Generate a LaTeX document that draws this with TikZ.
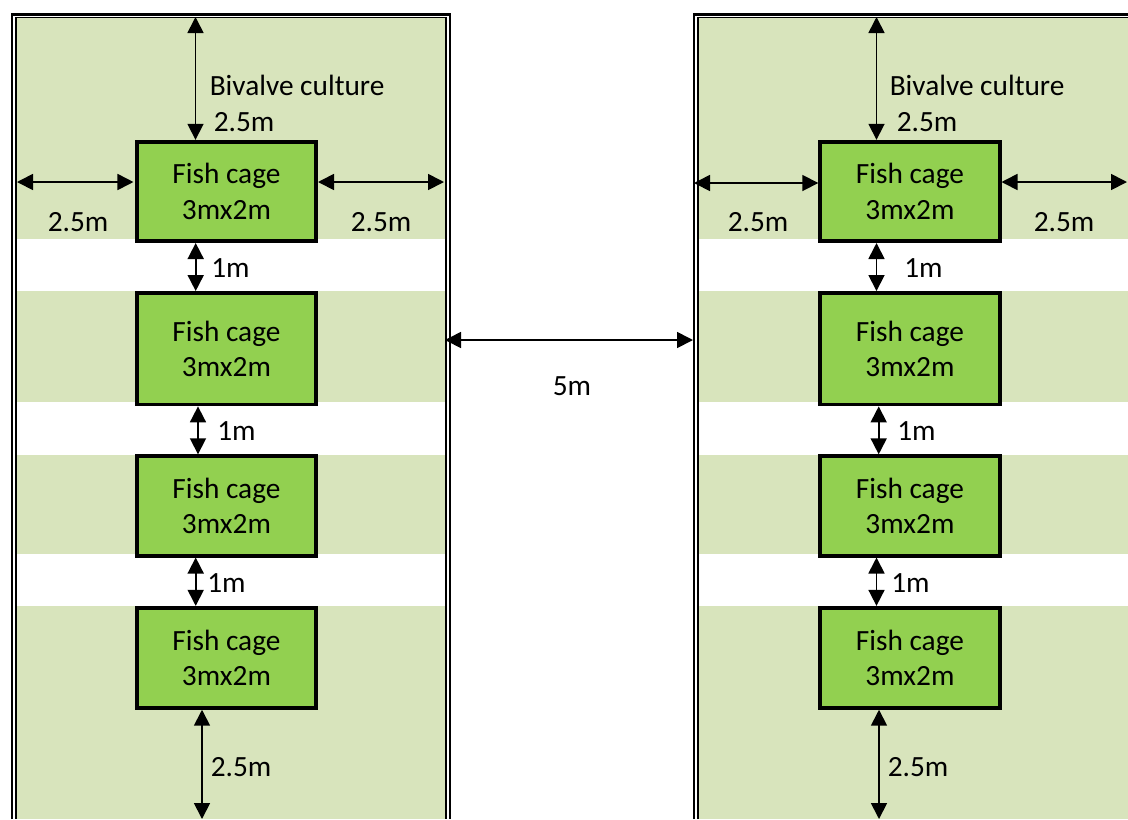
\documentclass[tikz,border=0pt]{standalone}
\usepackage{fontspec}
\setmainfont{Carlito}
\usetikzlibrary{arrows.meta}
\definecolor{bandgreen}{HTML}{D8E4BC}
\definecolor{cagegreen}{HTML}{92D050}
\tikzset{
  cage/.style={draw=black,fill=cagegreen,line width=2.9pt,minimum width=134.5pt,align=center,inner sep=0pt,
    font=\fontsize{22}{26.6}\selectfont},
  lbl/.style={anchor=base west,inner sep=0pt,font=\fontsize{22}{26.6}\selectfont},
  dimline/.style={{Triangle[length=12pt,width=12pt]}-{Triangle[length=12pt,width=12pt]},line width=1.3pt,black},
  frameout/.style={draw=black,line width=1.9pt},
  framein/.style={draw=black,line width=1.1pt},
  band/.style={fill=bandgreen,draw=none}
}
\begin{document}
\begin{tikzpicture}[x=0.75pt,y=-0.75pt]
\useasboundingbox (0,0) rectangle (1128,819);
% bands
\foreach \xa/\xb in {16.5/445,698.5/1128}{
  \fill[band] (\xa,18) rectangle (\xb,238.7);
  \fill[band] (\xa,291) rectangle (\xb,402);
  \fill[band] (\xa,454.5) rectangle (\xb,554);
  \fill[band] (\xa,606) rectangle (\xb,819);
}
% double frames
\draw[frameout] (12.2,819) -- (12.2,14.3) -- (450,14.3) -- (450,819);
\draw[framein] (15.8,819) -- (15.8,17.5) -- (446,17.5) -- (446,819);
\draw[frameout] (694.2,819) -- (694.2,14.3) -- (1128,14.3);
\draw[framein] (697.8,819) -- (697.8,17.5) -- (1128,17.5);
% cages
\node[cage,minimum height=74.5pt] (L1) at (226.4,191.4) {Fish cage\\3mx2m};
\node[cage,minimum height=83.6pt] (L2) at (226.4,348.7) {Fish cage\\3mx2m};
\node[cage,minimum height=74.5pt] (L3) at (226.4,505.9) {Fish cage\\3mx2m};
\node[cage,minimum height=75pt]   (L4) at (226.4,657.8) {Fish cage\\3mx2m};
\node[cage,minimum height=74.5pt] (R1) at (909.9,191.4) {Fish cage\\3mx2m};
\node[cage,minimum height=83.6pt] (R2) at (909.9,348.7) {Fish cage\\3mx2m};
\node[cage,minimum height=74.5pt] (R3) at (909.9,505.9) {Fish cage\\3mx2m};
\node[cage,minimum height=75pt]   (R4) at (909.9,657.8) {Fish cage\\3mx2m};
% free ends of connectors
\coordinate (Ltop) at (195.5,17);
\coordinate (Lleft) at (17,182);
\coordinate (Lright) at (444,182);
\coordinate (Lg1) at (195.7,0);
\coordinate (Lg2) at (198,0);
\coordinate (Lg3) at (195.7,0);
\coordinate (Lbot) at (202,819);
\coordinate (Rtop) at (876.5,17);
\coordinate (Rleft) at (694,183);
\coordinate (Rright) at (1127,182);
\coordinate (Rg1) at (876.5,0);
\coordinate (Rg2) at (878.7,0);
\coordinate (Rg3) at (876.5,0);
\coordinate (Rbot) at (879,819);
\coordinate (Mleft) at (445,340);
\coordinate (Mright) at (693,340);
% connectors
\draw[dimline] (Ltop) -- (Ltop |- L1.north);
\draw[dimline,shorten >=1pt] (Lleft) -- (L1.west |- Lleft);
\draw[dimline] (L1.east |- Lright) -- (Lright);
\draw[dimline] (Lg1 |- L1.south) -- (Lg1 |- L2.north);
\draw[dimline] (Lg2 |- L2.south) -- (Lg2 |- L3.north);
\draw[dimline] (Lg3 |- L3.south) -- (Lg3 |- L4.north);
\draw[dimline] (Lbot |- L4.south) -- (Lbot);
\draw[dimline] (Rtop) -- (Rtop |- R1.north);
\draw[dimline] (Rleft) -- (R1.west |- Rleft);
\draw[dimline] (R1.east |- Rright) -- (Rright);
\draw[dimline] (Rg1 |- R1.south) -- (Rg1 |- R2.north);
\draw[dimline] (Rg2 |- R2.south) -- (Rg2 |- R3.north);
\draw[dimline] (Rg3 |- R3.south) -- (Rg3 |- R4.north);
\draw[dimline] (Rbot |- R4.south) -- (Rbot);
\draw[dimline] (Mleft) -- (Mright);
% labels
\node[lbl] (t1) at (209.5,95) {Bivalve culture};
\node[lbl] (t2) at (889.5,95) {Bivalve culture};
\node[lbl] (t3) at (213.5,131) {2.5m};
\node[lbl] (t4) at (896.5,131) {2.5m};
\node[lbl] (t5) at (47.5,231) {2.5m};
\node[lbl] (t6) at (350.5,231) {2.5m};
\node[lbl] (t7) at (727.5,231) {2.5m};
\node[lbl] (t8) at (1033.5,231) {2.5m};
\node[lbl] (t9) at (211,277) {1m};
\node[lbl] (t10) at (217,440) {1m};
\node[lbl] (t11) at (207,592) {1m};
\node[lbl] (t12) at (904,277) {1m};
\node[lbl] (t13) at (897,440) {1m};
\node[lbl] (t14) at (891,592) {1m};
\node[lbl] (t15) at (552.5,395) {5m};
\node[lbl] (t16) at (210.5,776) {2.5m};
\node[lbl] (t17) at (887.5,776) {2.5m};
\end{tikzpicture}
\end{document}
